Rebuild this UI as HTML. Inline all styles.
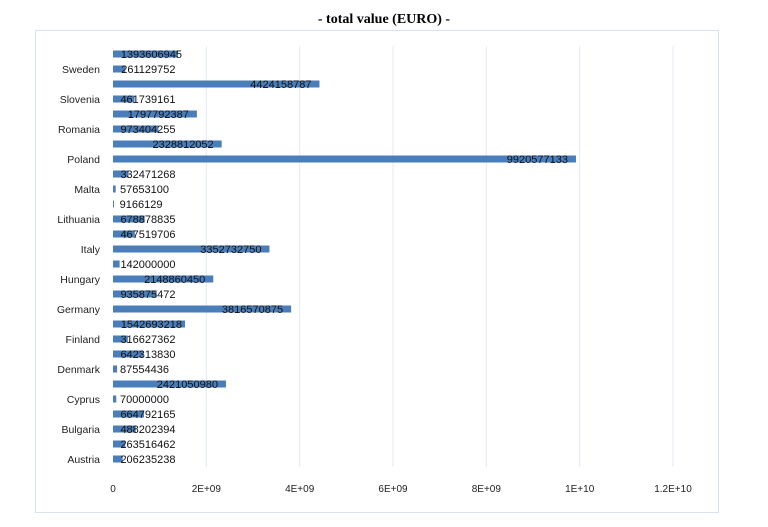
<!DOCTYPE html>
<html><head><meta charset="utf-8"><style>
body{margin:0;background:#fff;width:768px;height:522px;overflow:hidden}
svg text{font-family:"Liberation Sans",sans-serif}
</style></head><body>
<svg width="768" height="522">
<text x="384" y="23" text-anchor="middle" font-family="Liberation Serif" font-weight="bold" font-size="14" style="font-family:'Liberation Serif',serif">- total value (EURO) -</text>
<rect x="35.5" y="30.5" width="683" height="482" fill="none" stroke="#d9e3f0"/>
<g id="grid"></g><g id="bars"></g><g id="labels"></g><g id="cats"></g><g id="ticks"></g>
</svg>
<script>
const categories=["Austria","","Bulgaria","","Cyprus","","Denmark","","Finland","","Germany","","Hungary","","Italy","","Lithuania","","Malta","","Poland","","Romania","","Slovenia","","Sweden",""];
const values=[206235238,263516462,488202394,664792165,70000000,2421050980,87554436,642313830,316627362,1542693218,3816570875,935875472,2148860450,142000000,3352732750,467519706,678878835,9166129,57653100,332471268,9920577133,2328812052,973404255,1797792387,461739161,4424158787,261129752,1393606945];
const tickValues=[0,2e9,4e9,6e9,8e9,1e10,1.2e10];
const tickLabels=["0","2E+09","4E+09","6E+09","8E+09","1E+10","1.2E+10"];
const NS="http://www.w3.org/2000/svg";
const x0=113,pxPer=560/1.2e10;
const xs=v=>x0+v*pxPer;
const ys=i=>459-i*15;
function mk(t,a,p,txt){const e=document.createElementNS(NS,t);for(const k in a)e.setAttribute(k,a[k]);if(txt!=null)e.textContent=txt;document.getElementById(p).appendChild(e);return e;}
tickValues.forEach((v,i)=>{
 if(i>0){const g=mk('line',{x1:xs(v),x2:xs(v),y1:46,y2:467,stroke:'#e3ebf5'},'grid');
 
 }
 const t=mk('text',{x:xs(v),y:492,'text-anchor':'middle','font-size':10,fill:'#222'},'ticks',tickLabels[i]);
 
 
});
values.forEach((v,i)=>{
 const y=ys(i);
 const b=mk('rect',{x:x0,y:y-3.5,width:Math.max(1,xs(v)-x0),height:7,fill:'#4a7ebb'},'bars');
 
 
 const s=String(v);const w=s.length*6.5;
 const endX=Math.max(xs(v)-8,x0+4+w);
 const t=mk('text',{x:endX,y:y+4,'text-anchor':'end','font-size':11,fill:'#111'},'labels',s);
 
 
 if(categories[i]){const c=mk('text',{x:100,y:y+4,'text-anchor':'end','font-size':10.5,fill:'#222'},'cats',categories[i]);
 
 }
});
</script>
</body></html>
